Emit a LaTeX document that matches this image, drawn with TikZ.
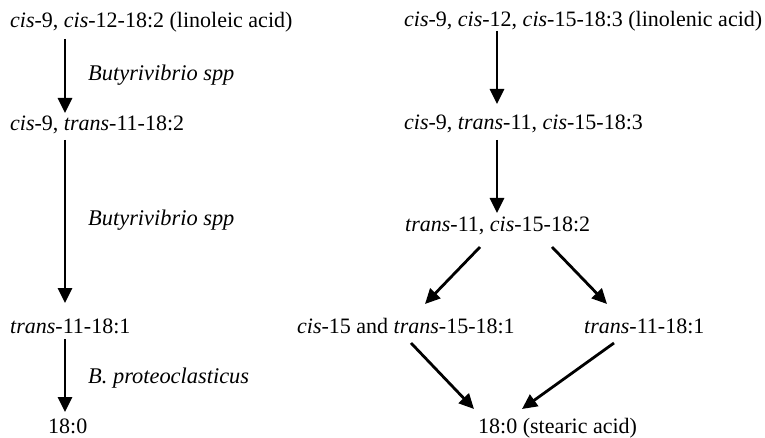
\documentclass[tikz,border=0pt]{standalone}
\usepackage{fontspec}
\setmainfont{Liberation Serif}
\usetikzlibrary{arrows.meta}
\begin{document}
\begin{tikzpicture}[x=1pt,y=-1pt,
  txt/.style={anchor=base west,inner sep=0pt,font=\rmfamily\fontsize{22}{26}\selectfont},
  lab/.style={txt,font=\rmfamily\fontsize{22.4}{26}\selectfont},
  arr/.style={line width=2.8pt,-{Triangle[width=14pt,length=15pt]}}]
\useasboundingbox (0,0) rectangle (765,438);
% left column
\node[txt] (l1) at (10,28) {\textit{cis}-9, \textit{cis}-12-18:2 (linoleic acid)};
\node[txt] (l2) at (10,131) {\textit{cis}-9, \textit{trans}-11-18:2};
\node[txt] (l3) at (10,333) {\textit{trans}-11-18:1};
\node[txt] (l4) at (48,433) {18:0};
\node[lab] (b1) at (88,81) {\textit{Butyrivibrio spp}};
\node[lab] (b2) at (88,226) {\textit{Butyrivibrio spp}};
\node[lab] (b3) at (88,383) {\textit{B. proteoclasticus}};
\coordinate (a1s) at (65,39);  \coordinate (a1e) at (65,113);
\coordinate (a2s) at (65,140); \coordinate (a2e) at (65,303);
\coordinate (a3s) at (65,339); \coordinate (a3e) at (65,412);
\draw[arr] (a1s) -- (a1e);
\draw[arr] (a2s) -- (a2e);
\draw[arr] (a3s) -- (a3e);
% right column
\node[txt] (r1) at (404,27) {\textit{cis}-9, \textit{cis}-12, \textit{cis}-15-18:3 (linolenic acid)};
\node[txt] (r2) at (404,130) {\textit{cis}-9, \textit{trans}-11, \textit{cis}-15-18:3};
\node[txt] (r3) at (405,232) {\textit{trans}-11, \textit{cis}-15-18:2};
\node[txt] (r4) at (297,333) {\textit{cis}-15 and \textit{trans}-15-18:1};
\node[txt] (r5) at (584,333) {\textit{trans}-11-18:1};
\node[txt] (r6) at (478,433) {18:0 (stearic acid)};
\coordinate (c1s) at (497,31);  \coordinate (c1e) at (497,104);
\coordinate (c2s) at (497,140); \coordinate (c2e) at (497,213);
\coordinate (d1s) at (480,247); \coordinate (d1e) at (425,304);
\coordinate (d2s) at (552,247); \coordinate (d2e) at (607,304);
\coordinate (d3s) at (411,343); \coordinate (d3e) at (474,409);
\coordinate (d4s) at (614,343); \coordinate (d4e) at (522,409);
\draw[arr] (c1s) -- (c1e);
\draw[arr] (c2s) -- (c2e);
\draw[arr] (d1s) -- (d1e);
\draw[arr] (d2s) -- (d2e);
\draw[arr] (d3s) -- (d3e);
\draw[arr] (d4s) -- (d4e);
\end{tikzpicture}
\end{document}
